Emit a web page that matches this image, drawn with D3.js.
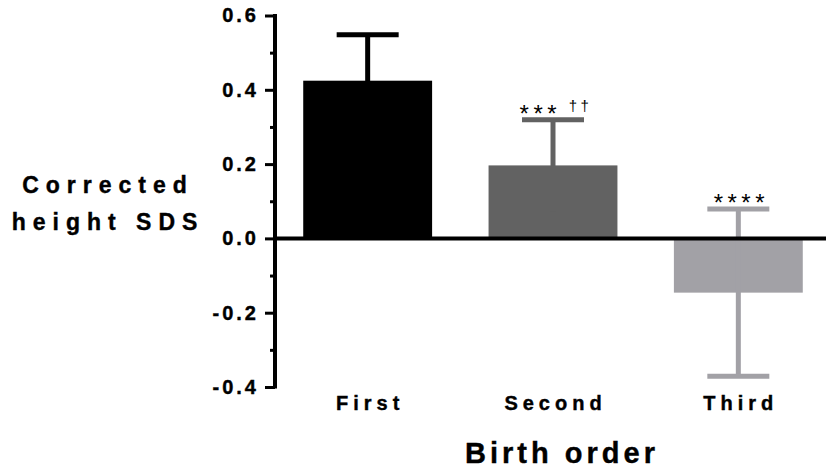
<!DOCTYPE html>
<html>
<head>
<meta charset="utf-8">
<script src="https://d3js.org/d3.v7.min.js"></script>
<style>
  body { margin: 0; background: #fff; }
  text { font-family: "Liberation Sans", Arial, sans-serif; font-weight: bold; fill: #000; stroke: #000; stroke-width: 0.4px; }
</style>
</head>
<body>
<div id="chart"></div>
<script>
  // values
  const categories = ["First", "Second", "Third"];
  const means = [0.4245, 0.1965, -0.146];
  const errors = [0.124, 0.123, 0.225];
  const barColors = ["#000000", "#626262", "#a2a1a6"];
  const stars = ["", "***", "****"];
  const daggers = ["", "††", ""];
  const majorTicks = [-0.4, -0.2, 0.0, 0.2, 0.4, 0.6];
  const minorTicks = [-0.3, -0.1, 0.1, 0.3, 0.5];
  const yTitle = ["Corrected", "height SDS"];
  const xTitle = "Birth order";

  const width = 826, height = 470;
  const svg = d3.select("#chart")
	.append("svg")
	.attr("width", width)
	.attr("height", height);

  const x = d3.scaleBand()
	.domain(categories)
	.range([275, 831])
	.paddingInner(0.3046)
	.paddingOuter(0.1523);
  const y = d3.scaleLinear()
	.domain([-0.4, 0.6])
	.range([387, 15.5]);

  const axisX = 275;
  const capW = 62, lineW = 5;

  // bars
  svg.selectAll("rect.bar")
    .data(categories)
    .join("rect")
    .attr("class", "bar")
    .attr("x", d => x(d))
    .attr("width", x.bandwidth())
    .attr("y", (d, i) => y(Math.max(0, means[i])))
    .attr("height", (d, i) => Math.abs(y(means[i]) - y(0)))
    .attr("fill", (d, i) => barColors[i]);

  // error bars (stem + cap on each end)
  categories.forEach((c, i) => {
    const cx = x(c) + x.bandwidth() / 2;
    const hi = means[i] + errors[i], lo = means[i] - errors[i];
    const g = svg.append("g").attr("stroke", barColors[i]).attr("stroke-width", lineW);
    g.append("line").attr("x1", cx).attr("x2", cx).attr("y1", y(hi)).attr("y2", y(lo));
    g.append("line").attr("x1", cx - capW / 2).attr("x2", cx + capW / 2).attr("y1", y(hi)).attr("y2", y(hi));
    if (means[i] < 0) {
      g.append("line").attr("x1", cx - capW / 2).attr("x2", cx + capW / 2).attr("y1", y(lo)).attr("y2", y(lo));
    }
  });

  // significance marks
  categories.forEach((c, i) => {
    if (!stars[i]) return;
    const cx = x(c) + x.bandwidth() / 2;
    const yc = y(means[i] + errors[i]);
    const t = svg.append("text")
	  .attr("x", cx + 3)
	  .attr("y", yc + 2)
	  .attr("text-anchor", "middle")
	  .style("font-weight", "normal")
	  .style("stroke-width", "0");
    t.append("tspan")
      .style("font-size", "24px")
      .style("letter-spacing", "4.5px")
      .text(stars[i]);
    if (daggers[i]) {
      t.append("tspan")
	.attr("dy", -11)
	.style("font-size", "15px")
	.style("letter-spacing", "3.5px")
	.text(" " + daggers[i]);
    }
  });

  // zero line
  svg.append("line")
    .attr("x1", axisX).attr("x2", width)
    .attr("y1", y(0)).attr("y2", y(0))
    .attr("stroke", "#000").attr("stroke-width", 4);

  // y axis
  const yAxis = svg.append("g")
	.attr("transform", `translate(${axisX},0)`)
	.call(d3.axisLeft(y).tickValues(majorTicks).tickSize(10).tickSizeOuter(0)
	      .tickPadding(6).tickFormat(d => d.toFixed(1)));
  yAxis.select(".domain").attr("stroke-width", 4).attr("d", `M0,${y(-0.4) + 1.5}V${y(0.6) - 1.5}`);
  yAxis.selectAll(".tick line").attr("stroke-width", 3);
  yAxis.selectAll(".tick text")
    .style("font-size", "20px")
    .style("letter-spacing", "3px")
    .style("font-family", '"Liberation Sans", Arial, sans-serif')
    .style("font-weight", "bold")
    .style("stroke", "#000")
    .style("stroke-width", "0.4px");
  svg.append("g")
    .attr("transform", `translate(${axisX},0)`)
    .call(d3.axisLeft(y).tickValues(minorTicks).tickSize(5).tickFormat(""))
    .call(g => g.select(".domain").remove())
    .selectAll(".tick line").attr("stroke-width", 3);

  // category labels
  svg.selectAll("text.cat")
    .data(categories)
    .join("text")
    .attr("class", "cat")
    .attr("x", d => x(d) + x.bandwidth() / 2 + 2.5)
    .attr("y", 410)
    .attr("text-anchor", "middle")
    .style("font-size", "20px")
    .style("letter-spacing", "5px")
    .text(d => d);

  // axis titles
  svg.selectAll("text.ytitle")
    .data(yTitle)
    .join("text")
    .attr("class", "ytitle")
    .attr("x", 108)
    .attr("y", (d, i) => 193 + i * 37)
    .attr("text-anchor", "middle")
    .style("font-size", "23px")
    .style("letter-spacing", "7px")
    .text(d => d);

  svg.append("text")
    .attr("x", 562)
    .attr("y", 463)
    .attr("text-anchor", "middle")
    .style("font-size", "29px")
    .style("letter-spacing", "4px")
    .text(xTitle);
</script>
</body>
</html>
